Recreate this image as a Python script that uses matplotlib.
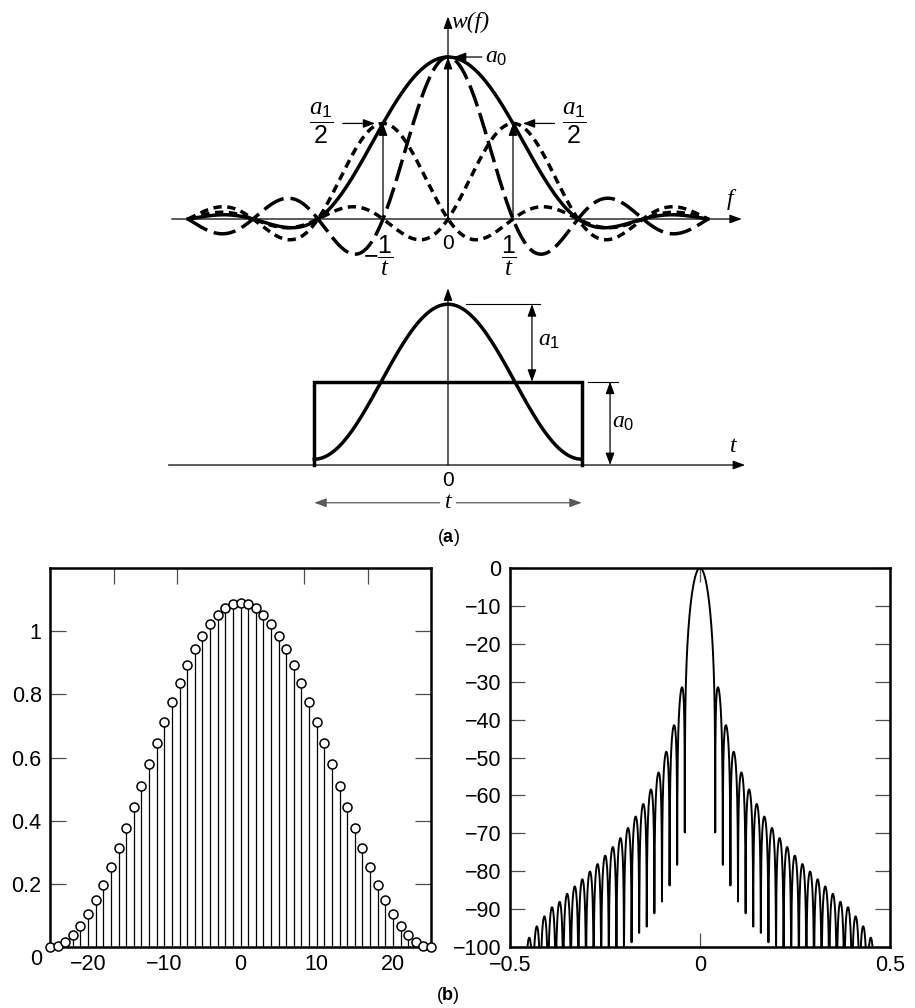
import numpy as np
import matplotlib
matplotlib.use("Agg")
import matplotlib.pyplot as plt

plt.rcParams["font.family"] = ["Liberation Sans", "DejaVu Sans"]
plt.rcParams["mathtext.fontset"] = "custom"
plt.rcParams["mathtext.rm"] = "Liberation Sans"
plt.rcParams["mathtext.it"] = "Liberation Serif:italic"
plt.rcParams["mathtext.bf"] = "Liberation Sans:bold"
plt.rcParams["lines.scale_dashes"] = False

# ---- panel (a): coefficients used in the two sketches ----
spec_a0 = 1.0          # peak of the rectangular-window spectrum
spec_a1_half = 0.59    # peak of each shifted sinc term
spec_extent = 4        # sketch spans +/- 4/t
time_a0 = 1.0          # rectangle height
time_a1 = 0.93         # cosine amplitude
half_width = 0.5       # window spans -t/2 .. t/2

# ---- panel (b): 51-point raised-cosine window, samples n = 0..25 ----
window_half = [1.09000, 1.08570, 1.07288, 1.05173, 1.02259, 0.98592,
               0.94229, 0.89239, 0.83703, 0.77705, 0.71342, 0.64712,
               0.57922, 0.51078, 0.44288, 0.37658, 0.31295, 0.25297,
               0.19761, 0.14771, 0.10408, 0.06741, 0.03827, 0.01712,
               0.00430, 0.00000]
nfft = 2048
left_xticks = [-20, -10, 0, 10, 20]
left_yticks = [0.2, 0.4, 0.6, 0.8, 1.0]
left_yticklabels = ["0.2", "0.4", "0.6", "0.8", "1"]
right_xticks = [-0.5, 0, 0.5]
right_yticks = list(range(0, -101, -10))

W, H = 915, 1008
fig = plt.figure(figsize=(W / 100, H / 100), dpi=100)
fig.patch.set_facecolor("white")


def px_axes(l, t, r, b):
    return fig.add_axes([l / W, 1 - b / H, (r - l) / W, (b - t) / H])


def arrow(ax, start, end, style="-|>", color="k", lw=0.9):
    ax.annotate("", xy=end, xytext=start,
                arrowprops=dict(arrowstyle=style + ",head_length=0.6,head_width=0.22",
                                color=color, lw=lw, shrinkA=0, shrinkB=0,
                                mutation_scale=12),
                annotation_clip=False)


serif_it = dict(family="Liberation Serif", style="italic")
THICK = 2.5

# ================= (a) top: spectra =================
axf = px_axes(150, 0, 770, 280)
axf.set_xlim(-4.585, 4.954)
axf.set_ylim(-0.3765, 1.352)
axf.axis("off")

f = np.linspace(-spec_extent, spec_extent, 2401)
rect_spec = spec_a0 * np.sinc(f)
shift_lo = spec_a1_half * np.sinc(f + 1)
shift_hi = spec_a1_half * np.sinc(f - 1)
total = rect_spec + shift_lo + shift_hi

axf.plot(f, shift_lo, color="k", lw=2.5, dashes=(6, 4), dash_capstyle="butt")
axf.plot(f, shift_hi, color="k", lw=2.5, dashes=(6, 4), dash_capstyle="butt")
axf.plot(f, rect_spec, color="k", lw=2.5, dashes=(16, 5), dash_capstyle="butt")
axf.plot(f, total, color="k", lw=THICK)

arrow(axf, (-4.25, 0), (4.52, 0))
arrow(axf, (0, 0), (0, 1.25))
arrow(axf, (0, 0), (0, spec_a0))
arrow(axf, (-1, 0), (-1, spec_a1_half))
arrow(axf, (1, 0), (1, spec_a1_half))
arrow(axf, (0.52, spec_a0), (0.09, spec_a0))
arrow(axf, (-1.62, spec_a1_half), (-1.12, spec_a1_half))
arrow(axf, (1.64, spec_a1_half), (1.15, spec_a1_half))

axf.text(0.06, 1.215, "w(f)", fontsize=17, ha="left", va="center", **serif_it)
axf.text(4.34, 0.12, "f", fontsize=17, ha="center", va="center", **serif_it)
axf.text(0.57, spec_a0, r"$a_0$", fontsize=17, ha="left", va="center")
axf.text(-1.94, spec_a1_half, r"$\dfrac{a_1}{2}$", fontsize=18, ha="center", va="center")
axf.text(1.94, spec_a1_half, r"$\dfrac{a_1}{2}$", fontsize=18, ha="center", va="center")
axf.text(0, -0.15, "0", fontsize=15, ha="center", va="center")
axf.text(-1.08, -0.225, r"$-\dfrac{1}{t}$", fontsize=18, ha="center", va="center")
axf.text(0.94, -0.225, r"$\dfrac{1}{t}$", fontsize=18, ha="center", va="center")

# ================= (a) bottom: time-domain window =================
axt = px_axes(150, 280, 770, 520)
axt.set_xlim(-1.1144, 1.2042)
axt.set_ylim(-0.660, 2.221)
axt.axis("off")

t = np.linspace(-half_width, half_width, 601)
cos_window = time_a0 + time_a1 * np.cos(np.pi * t / half_width)
rect_x = [-half_width, -half_width, half_width, half_width]
rect_y = [0, time_a0, time_a0, 0]
peak = time_a0 + time_a1

arrow(axt, (-1.045, 0), (1.111, 0))
arrow(axt, (0, 0), (0, 2.12))
axt.plot(rect_x, rect_y, color="k", lw=THICK, solid_joinstyle="miter")
axt.plot(t, cos_window, color="k", lw=THICK)

axt.plot([0.067, 0.344], [peak, peak], color="k", lw=0.8)
arrow(axt, (0.314, peak), (0.314, time_a0), style="<|-|>")
axt.text(0.335, 1.5, r"$a_1$", fontsize=17, ha="left", va="center")
axt.plot([0.524, 0.636], [time_a0, time_a0], color="k", lw=0.8)
arrow(axt, (0.606, time_a0), (0.606, 0), style="<|-|>")
axt.text(0.613, 0.52, r"$a_0$", fontsize=17, ha="left", va="center")
axt.text(1.066, 0.22, "t", fontsize=17, ha="center", va="center", **serif_it)
axt.text(0, -0.18, "0", fontsize=15, ha="center", va="center")
arrow(axt, (-half_width, -0.453), (half_width, -0.453), style="<|-|>", color="0.35")
axt.text(0, -0.453, "t", fontsize=17, ha="center", va="center",
         bbox=dict(facecolor="white", edgecolor="none", pad=3), **serif_it)

fig.text(448 / W, 1 - 537 / H, r"($\mathbf{a}$)", fontsize=13, ha="center", va="center")
fig.text(448 / W, 1 - 995 / H, r"($\mathbf{b}$)", fontsize=13, ha="center", va="center")

# ================= (b) left: window samples =================
window = np.concatenate([window_half[:0:-1], window_half])
n = np.arange(len(window)) - (len(window) - 1) // 2

axl = px_axes(50, 568, 431, 947)
markerline, stemlines, baseline = axl.stem(n, window, basefmt=" ")
plt.setp(stemlines, color="k", lw=0.9)
plt.setp(markerline, marker="o", markersize=6.5, markerfacecolor="white",
         markeredgecolor="k", markeredgewidth=1.1, clip_on=False, zorder=3)
axl.set_xlim(n[0], n[-1])
axl.set_ylim(0, 1.2)
axl.set_xticks(left_xticks)
axl.set_xticklabels([str(v).replace("-", "\u2212") for v in left_xticks])
axl.tick_params(axis="x", direction="in", length=0, pad=5, labelsize=15.5)
axl.set_yticks(left_yticks)
axl.set_yticklabels(left_yticklabels)
axl.tick_params(axis="y", direction="in", length=11.5, width=0.9, color="0.3",
                right=True, pad=6, labelsize=15.5)
top_l = axl.secondary_xaxis("top")
top_l.set_xticks([n[0] + k * (n[-1] - n[0]) / 6 for k in (1, 2, 4, 5)])
top_l.tick_params(direction="in", length=11.5, width=0.9, color="0.3", labeltop=False)
top_l.spines["top"].set_visible(False)
axl.text(-0.037, -0.034, "0", transform=axl.transAxes, fontsize=15.5,
         ha="center", va="center")

# ================= (b) right: window spectrum (dB) =================
spectrum = np.fft.fftshift(np.fft.fft(window, nfft))
freq = np.fft.fftshift(np.fft.fftfreq(nfft))
mag_db = 20 * np.log10(np.abs(spectrum) / np.abs(spectrum).max() + 1e-15)

axr = px_axes(510, 568, 890, 947)
axr.plot(freq, mag_db, color="k", lw=1.4)
axr.set_xlim(-0.5, 0.5)
axr.set_ylim(-100, 0)
axr.set_xticks(right_xticks)
axr.set_xticklabels(["\u22120.5", "0", "0.5"])
axr.tick_params(axis="x", direction="in", length=10, width=0.9, color="0.3",
                top=True, pad=6, labelsize=15.5)
axr.set_yticks(right_yticks)
axr.tick_params(axis="y", direction="in", length=11, width=0.9, color="0.3",
                right=True, pad=6, labelsize=15.5)

for ax in (axl, axr):
    for sp in ax.spines.values():
        sp.set_linewidth(1.8)

fig.savefig("out.png", dpi=100, facecolor="white")
